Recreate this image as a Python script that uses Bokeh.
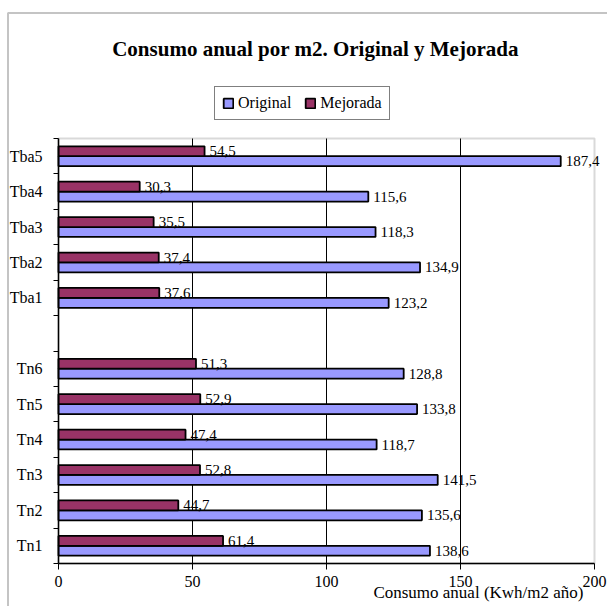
from bokeh.plotting import figure
from bokeh.models import (Range1d, FixedTicker, Label, Legend, LegendItem,
                          BoxAnnotation, ColumnDataSource)
from bokeh.transform import dodge
from bokeh.core.properties import value
from bokeh.embed import file_html
from bokeh.resources import INLINE

# ---- data (bottom to top) ----
categories = ["Tn1", "Tn2", "Tn3", "Tn4", "Tn5", "Tn6", "",
              "Tba1", "Tba2", "Tba3", "Tba4", "Tba5"]
original = [138.6, 135.6, 141.5, 118.7, 133.8, 128.8, None,
            123.2, 134.9, 118.3, 115.6, 187.4]
mejorada = [61.4, 44.7, 52.8, 47.4, 52.9, 51.3, None,
            37.6, 37.4, 35.5, 30.3, 54.5]
x_ticks = [0, 50, 100, 150, 200]

title_text = "Consumo anual por m2. Original y Mejorada"
x_title = "Consumo anual (Kwh/m2 año)"

idx = [i for i, c in enumerate(categories) if c]
src = ColumnDataSource(dict(
    pos=[i + 0.5 for i in idx],
    orig=[original[i] for i in idx],
    mej=[mejorada[i] for i in idx],
    orig_lbl=[f"{original[i]:.1f}".replace(".", ",") for i in idx],
    mej_lbl=[f"{mejorada[i]:.1f}".replace(".", ",") for i in idx],
))
grid_src = ColumnDataSource(dict(x=x_ticks[1:-1]))

# ---- layout (canvas pixels, top-left origin) ----
W, H = 607, 606
PL, PR, PT, PB = 58, 594, 138, 563      # plot-area box inside the canvas
X0, X1 = x_ticks[0], x_ticks[-1]
Y0, Y1 = 0, len(categories)
kx = (X1 - X0) / (PR - PL)
ky = (Y1 - Y0) / (PB - PT)
x_range = Range1d(X0 - PL * kx, X1 + (W - PR) * kx)
y_range = Range1d(Y0 - (H - PB) * ky, Y1 + PT * ky)

SERIF = "Liberation Serif"
p = figure(width=W, height=H, output_backend="svg", toolbar_location=None,
           x_range=x_range, y_range=y_range,
           min_border_left=0, min_border_right=0, min_border_top=0,
           min_border_bottom=0)
p.background_fill_color = "white"
p.border_fill_color = "white"
p.outline_line_color = None
p.xgrid.visible = False
p.ygrid.visible = False

# outer chart frame (its right/bottom edges fall outside the page)
p.add_layout(BoxAnnotation(left=7.5, right=W + 30, top=H - 12.5, bottom=-30,
                           left_units="screen", right_units="screen",
                           top_units="screen", bottom_units="screen",
                           fill_color=None, line_color="#3a3a3a", line_width=2))
# plot-area border
p.add_layout(BoxAnnotation(left=X0, right=X1, bottom=Y0, top=Y1,
                           fill_color=None, line_color="#808080", line_width=2,
                           level="underlay"))

# vertical grid lines inside the plot area
p.segment(x0="x", x1="x", y0=Y0, y1=Y1, source=grid_src,
          line_color="black", line_width=1)

BAR_H = 0.28
r_orig = p.hbar(y=dodge("pos", -BAR_H / 2), left=0, right="orig", height=BAR_H,
                source=src, fill_color="#9999FF", line_color="black", line_width=1.8)
r_mej = p.hbar(y=dodge("pos", BAR_H / 2), left=0, right="mej", height=BAR_H,
               source=src, fill_color="#993366", line_color="black", line_width=1.8)

p.text(x="orig", y=dodge("pos", -BAR_H / 2), text="orig_lbl", source=src,
       x_offset=5, text_baseline="middle", text_font=value(SERIF),
       text_font_size="15px", text_color="black")
p.text(x="mej", y=dodge("pos", BAR_H / 2), text="mej_lbl", source=src,
       x_offset=5, text_baseline="middle", text_font=value(SERIF),
       text_font_size="15px", text_color="black")

# x axis
xa = p.xaxis[0]
xa.fixed_location = Y0
xa.bounds = (X0, X1)
xa.ticker = FixedTicker(ticks=x_ticks)
xa.major_tick_out = 6
xa.major_tick_in = 0
xa.minor_tick_out = 0
xa.minor_tick_in = 0
xa.axis_line_color = "black"
xa.axis_line_width = 1.5
xa.major_tick_line_color = "black"
xa.major_label_text_font = SERIF
xa.major_label_text_font_size = "16px"
xa.major_label_text_color = "black"
xa.major_label_standoff = 6

# y axis (ticks between categories, labels at category centres)
ya = p.yaxis[0]
ya.fixed_location = X0
ya.bounds = (Y0, Y1)
ya.ticker = FixedTicker(ticks=[i + 0.5 for i in idx],
                        minor_ticks=list(range(Y0, Y1 + 1)))
ya.major_label_overrides = {i + 0.5: categories[i] for i in idx}
ya.major_tick_out = 0
ya.major_tick_in = 0
ya.minor_tick_out = 5
ya.minor_tick_in = 0
ya.minor_tick_line_color = "black"
ya.axis_line_color = "black"
ya.axis_line_width = 1.5
ya.major_label_text_font = SERIF
ya.major_label_text_font_size = "16px"
ya.major_label_text_color = "black"
ya.major_label_standoff = 11

legend = Legend(items=[LegendItem(label="Original", renderers=[r_orig]),
                       LegendItem(label="Mejorada", renderers=[r_mej])],
                location=(214, H - 120), orientation="horizontal",
                border_line_color="black", border_line_width=1,
                background_fill_color="white", background_fill_alpha=1,
                label_text_font=SERIF, label_text_font_size="16px",
                label_text_color="black", glyph_width=12, glyph_height=12,
                label_standoff=4, spacing=13, padding=7, margin=0,
                label_height=16)
p.add_layout(legend)

p.add_layout(Label(x=315, y=H - 48, x_units="screen", y_units="screen",
                   text=title_text, text_align="center",
                   text_baseline="alphabetic", text_font=SERIF,
                   text_font_style="bold", text_font_size="21px",
                   text_color="black"))
p.add_layout(Label(x=583, y=H - 592, x_units="screen", y_units="screen",
                   text=x_title, text_align="right",
                   text_baseline="alphabetic", text_font=SERIF,
                   text_font_size="17px", text_color="black"))

open("out.html", "w").write(file_html(p, INLINE))
